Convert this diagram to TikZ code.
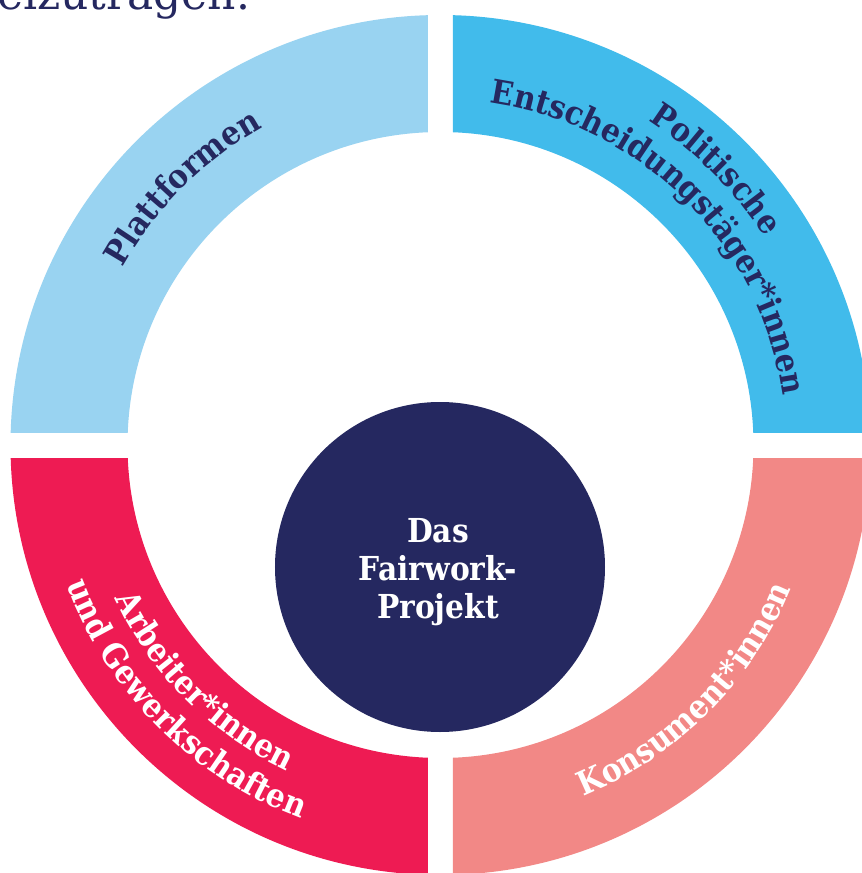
\documentclass[tikz,border=0pt]{standalone}
\usepackage{fontspec}
\setmainfont{DejaVu Serif}
\newfontfamily\condfont{DejaVu Serif Condensed}
\usetikzlibrary{decorations.text}
\definecolor{lblue}{HTML}{99D3F1}
\definecolor{mblue}{HTML}{41BBEB}
\definecolor{crim}{HTML}{EE1B53}
\definecolor{salm}{HTML}{F28886}
\definecolor{navy}{HTML}{252860}
\newcommand{\arcfont}{\condfont\fontsize{33}{38}\selectfont\bfseries}
\newcommand{\midfont}{\condfont\fontsize{33}{38}\selectfont\bfseries}
\tikzset{
  sector/.style={fill=#1, even odd rule},
  arctext/.style={decorate, decoration={text along path, text align=center, text={#1}}},
  midtext/.style={anchor=base, text=white, font=\midfont, inner sep=0pt}
}
\begin{document}
\begin{tikzpicture}[x=1pt,y=1pt]
\clip (-440.5,-428) rectangle (421.5,445);
\fill[white] (-440.5,-428) rectangle (421.5,445);
% headline remnant
\node[anchor=base east, text=navy, font=\fontsize{44}{50}\selectfont, inner sep=0pt] (head) at (-190,435) {beizutragen.};
% ring quadrants
\begin{scope}
  \clip (-500,13) rectangle (-12.5,500);
  \fill[sector=lblue] (0,0) circle[radius=430] (0,0) circle[radius=313];
\end{scope}
\begin{scope}
  \clip (12.5,13) rectangle (500,500);
  \fill[sector=mblue] (0,0) circle[radius=430] (0,0) circle[radius=313];
\end{scope}
\begin{scope}
  \clip (-500,-13) rectangle (-12.5,-500);
  \fill[sector=crim] (0,0) circle[radius=430] (0,0) circle[radius=313];
\end{scope}
\begin{scope}
  \clip (12.5,-13) rectangle (500,-500);
  \fill[sector=salm] (0,0) circle[radius=430] (0,0) circle[radius=313];
\end{scope}
% centre disc
\fill[navy] (-0.5,-122) circle[radius=165];
\node[midtext] (das) at (-2.5,-97) {Das};
\node[midtext] (fair) at (-2.5,-135) {Fairwork-};
\node[midtext] (proj) at (-2.5,-173) {Projekt};
% arc labels
\path[arctext={|\arcfont\color{navy}|Plattformen}] (195:364) arc[start angle=195, end angle=75, radius=364];
\path[arctext={|\arcfont\color{navy}|Politische}] (105:385) arc[start angle=105, end angle=-15, radius=385];
\path[arctext={|\arcfont\color{navy}|Entscheidungstäger*innen}] (105:346) arc[start angle=105, end angle=-15, radius=346];
\path[arctext={|\arcfont\color{white}|Arbeiter*innen}] (165:360) arc[start angle=165, end angle=285, radius=360];
\path[arctext={|\arcfont\color{white}|und Gewerkschaften}] (165:399) arc[start angle=165, end angle=285, radius=399];
\path[arctext={|\arcfont\color{white}|Konsument*innen}] (255:379) arc[start angle=255, end angle=375, radius=379];
\end{tikzpicture}
\end{document}
